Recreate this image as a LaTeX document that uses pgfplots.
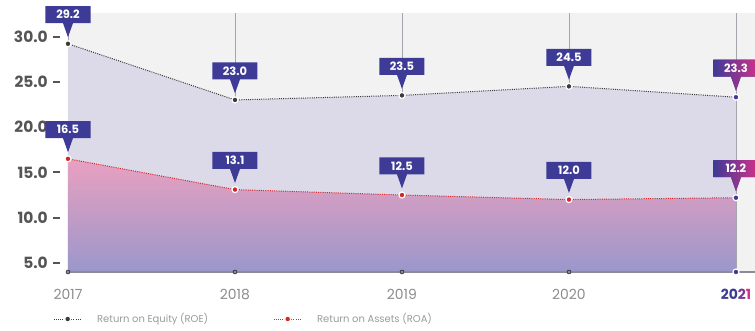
\documentclass[border=0pt]{standalone}
\usepackage{pgfplots}
\pgfplotsset{compat=1.18}
\usepackage{fontspec}
\setmainfont{Poppins}
\usetikzlibrary{shapes.callouts}
\definecolor{plotbg}{HTML}{F2F2F2}
\definecolor{roefill}{HTML}{DCDAE9}
\definecolor{roatop}{HTML}{EAA0C0}
\definecolor{roabot}{HTML}{9A97CB}
\definecolor{boxc}{HTML}{3E3B96}
\definecolor{magc}{HTML}{D3308A}
\definecolor{gridc}{HTML}{A5A5AD}
\definecolor{tickc}{HTML}{555555}
\definecolor{yearc}{HTML}{8C8C8C}
\definecolor{roec}{HTML}{3A3A3A}
\definecolor{roac}{HTML}{D02828}
\definecolor{legc}{HTML}{9A9A9A}
\definecolor{basec}{HTML}{8A8A98}
\tikzset{
  vbox/.style={rectangle callout, fill=boxc, text=white,
    font=\fontsize{11.5}{12}\selectfont\bfseries,
    minimum width=45bp, minimum height=17bp, inner sep=0pt,
    callout relative pointer={(0bp,-14bp)}, callout pointer width=10bp,
    anchor=pointer, yshift=6bp},
  gbox/.style={vbox, left color=boxc, right color=magc},
}
\begin{document}
\begin{tikzpicture}
\begin{axis}[
  at={(0,0)}, anchor=south west,
  scale only axis, width=687bp, height=259bp,
  xmin=0, xmax=4.114, ymin=4.0, ymax=32.6,
  axis background/.style={fill=plotbg},
  axis line style={draw=none},
  clip=false,
  /pgf/number format/assume math mode=true,
  xtick={0,1,2,3,4},
  xticklabels={2017,2018,2019,2020,{\bfseries\textcolor{boxc}{20}\textcolor{boxc!60!magc}{2}\textcolor{magc}{1}}},
  xticklabel style={font=\fontsize{14}{14}\selectfont, text=yearc, anchor=base, yshift=-27bp, inner sep=0pt},
  ytick={5,10,15,20,25,30},
  yticklabel={\pgfmathprintnumber[fixed,fixed zerofill,precision=1]{\tick}\hspace{5bp}\rule[0.3em]{7bp}{2bp}},
  yticklabel style={font=\fontsize{15.5}{15.5}\selectfont\bfseries, text=tickc, anchor=east, inner sep=0pt, xshift=-8bp},
  major tick length=0pt,
  xmajorgrids, grid style={gridc, line width=0.8bp},
  legend image code/.code={\draw[#1, mark=none] (0bp,0bp) -- (28bp,0bp); \path[#1, draw=none] plot coordinates {(14bp,0bp)};},
  legend style={at={(0,0)}, anchor=west, xshift=-15bp, yshift=-47bp, draw=none, fill=none, inner sep=0pt,
    font=\fontsize{10}{10}\selectfont, text=legc, legend columns=2,
    /tikz/every odd column/.append style={column sep=13bp},
    /tikz/every even column/.append style={column sep=63bp}},
]
% ROE area
\addplot[draw=none, fill=roefill, forget plot] coordinates {(0,4)(0,29.2)(1,23.0)(2,23.5)(3,24.5)(4,23.3)(4,4)};
% ROA area
\addplot[draw=none, top color=roatop, bottom color=roabot, forget plot] coordinates {(0,4)(0,16.5)(1,13.1)(2,12.5)(3,12.0)(4,12.2)(4,4)};
% baseline
\addplot[basec, line width=1.2bp, forget plot] coordinates {(0,4)(4.114,4)};
\addplot[forget plot, only marks, mark=*, mark size=2bp, mark options={fill=basec, draw=none}] coordinates {(0,4)(1,4)(2,4)(3,4)};
% ROE line
\addplot[roec, line width=1bp, dash pattern=on 1bp off 1.2bp, mark=*, mark indices={1,2,3,4}, mark size=3bp,
  mark options={solid, fill=roec, draw=white, line width=1.2bp}] coordinates {(0,29.2)(1,23.0)(2,23.5)(3,24.5)(4,23.3)};
\addlegendentry{Return on Equity (ROE)}
% ROA line
\addplot[roac, line width=1bp, dash pattern=on 1bp off 1.2bp, mark=*, mark indices={1,2,3,4}, mark size=3bp,
  mark options={solid, fill=roac, draw=white, line width=1.2bp}] coordinates {(0,16.5)(1,13.1)(2,12.5)(3,12.0)(4,12.2)};
\addlegendentry{Return on Assets (ROA)}
% 2021 marks
\addplot[forget plot, only marks, mark=*, mark size=3bp, mark options={fill=boxc, draw=white, line width=1.2bp}] coordinates {(4,23.3)(4,12.2)(4,4)};
\coordinate (e0) at (axis cs:0,29.2);
\coordinate (e1) at (axis cs:1,23.0);
\coordinate (e2) at (axis cs:2,23.5);
\coordinate (e3) at (axis cs:3,24.5);
\coordinate (e4) at (axis cs:4,23.3);
\coordinate (a0) at (axis cs:0,16.5);
\coordinate (a1) at (axis cs:1,13.1);
\coordinate (a2) at (axis cs:2,12.5);
\coordinate (a3) at (axis cs:3,12.0);
\coordinate (a4) at (axis cs:4,12.2);
\end{axis}
\node[vbox] at (e0) {29.2};
\node[vbox] at (e1) {23.0};
\node[vbox] at (e2) {23.5};
\node[vbox] at (e3) {24.5};
\node[gbox] at (e4) {23.3};
\node[vbox] at (a0) {16.5};
\node[vbox] at (a1) {13.1};
\node[vbox] at (a2) {12.5};
\node[vbox] at (a3) {12.0};
\node[gbox] at (a4) {12.2};
\pgfresetboundingbox
\path (-68bp,-59bp) rectangle (687bp,272bp);
\end{tikzpicture}
\end{document}
